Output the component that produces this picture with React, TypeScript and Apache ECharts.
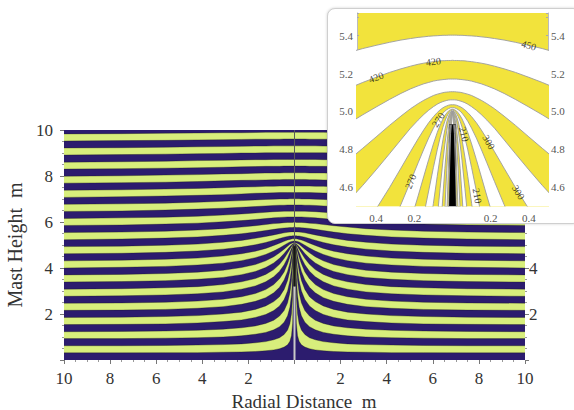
import React, { useEffect, useRef } from "react";
import * as echarts from "echarts";

// ---------- main chart data (right half; left half is the mirror image) ----------
const mainRadialX = [0, 0.04, 0.08, 0.13, 0.2, 0.3, 0.45, 0.65, 0.9, 1.25, 1.7, 2.3, 3.1, 4.2, 5.6, 7.5, 10];
// equipotential levels (V), 30 V apart
const mainLevels = [30, 60, 90, 120, 150, 180, 210, 240, 270, 300, 330, 360, 390, 420, 450, 480,
  510, 540, 570, 600, 630, 660, 690, 720, 750, 780, 810, 840, 870, 900, 930, 960];
// contour height (cm) of each level at each radial distance
const mainHeightsCm = [
  [500, 331, 160, 106, 81, 66, 56, 49, 44, 40, 37, 35, 34, 32, 32, 31, 31],
  [500, 409, 279, 202, 158, 130, 111, 97, 88, 80, 75, 70, 67, 65, 63, 62, 62],
  [500, 448, 358, 283, 229, 192, 164, 145, 131, 120, 112, 105, 100, 97, 95, 93, 93],
  [500, 470, 410, 346, 292, 249, 215, 191, 173, 159, 148, 140, 134, 129, 126, 124, 123],
  [500, 483, 444, 395, 345, 300, 263, 235, 215, 198, 185, 174, 167, 161, 157, 155, 154],
  [500, 490, 466, 430, 388, 346, 307, 275, 254, 235, 220, 208, 200, 193, 189, 186, 185],
  [501, 495, 480, 455, 422, 385, 348, 316, 292, 271, 255, 242, 232, 225, 220, 217, 216],
  [501, 498, 489, 473, 448, 418, 383, 353, 328, 306, 289, 275, 264, 256, 251, 248, 247],
  [502, 500, 495, 485, 468, 444, 414, 386, 362, 340, 322, 308, 296, 288, 283, 279, 277],
  [504, 502, 499, 493, 482, 465, 441, 416, 393, 372, 354, 340, 328, 319, 314, 310, 308],
  [506, 506, 504, 500, 493, 481, 463, 442, 422, 402, 385, 371, 359, 351, 345, 341, 339],
  [510, 510, 509, 507, 503, 495, 482, 466, 449, 431, 415, 402, 390, 382, 376, 372, 370],
  [517, 517, 516, 515, 513, 508, 499, 487, 474, 459, 445, 432, 421, 413, 407, 403, 400],
  [527, 527, 527, 526, 524, 522, 516, 508, 498, 485, 473, 462, 452, 443, 438, 434, 431],
  [540, 540, 540, 539, 539, 537, 534, 528, 521, 511, 501, 491, 482, 474, 468, 464, 462],
  [557, 557, 557, 557, 556, 555, 553, 549, 544, 537, 529, 520, 512, 504, 499, 495, 493],
  [577, 577, 576, 576, 576, 575, 574, 572, 568, 563, 556, 549, 542, 535, 530, 526, 523],
  [599, 599, 598, 598, 598, 598, 597, 595, 593, 589, 584, 578, 571, 565, 560, 556, 554],
  [622, 622, 622, 622, 622, 622, 621, 620, 618, 615, 611, 606, 601, 595, 591, 587, 585],
  [647, 647, 647, 647, 647, 647, 647, 646, 645, 642, 639, 635, 630, 625, 621, 618, 615],
  [674, 674, 674, 674, 674, 674, 673, 673, 672, 670, 667, 664, 660, 656, 652, 648, 646],
  [701, 701, 701, 701, 701, 700, 700, 700, 699, 698, 696, 693, 690, 686, 682, 679, 677],
  [728, 728, 728, 728, 728, 728, 728, 728, 727, 726, 725, 722, 719, 716, 713, 710, 707],
  [756, 756, 756, 756, 756, 756, 756, 756, 755, 755, 753, 752, 749, 746, 743, 740, 738],
  [785, 785, 785, 785, 785, 785, 785, 784, 784, 783, 782, 781, 779, 776, 773, 771, 769],
  [814, 814, 814, 814, 814, 814, 814, 813, 813, 813, 812, 810, 809, 806, 804, 801, 799],
  [843, 843, 843, 843, 843, 843, 843, 842, 842, 842, 841, 840, 838, 836, 834, 832, 830],
  [872, 872, 872, 872, 872, 872, 872, 872, 872, 871, 871, 870, 868, 867, 864, 862, 860],
  [901, 901, 901, 901, 901, 901, 901, 901, 901, 901, 900, 900, 898, 897, 895, 893, 891],
  [931, 931, 931, 931, 931, 931, 931, 931, 931, 930, 930, 929, 928, 927, 925, 923, 922],
  [961, 961, 961, 961, 961, 961, 961, 960, 960, 960, 960, 959, 958, 957, 955, 954, 952],
  [990, 990, 990, 990, 990, 990, 990, 990, 990, 990, 989, 988, 988, 987, 986, 984, 983],
];
const mastHeight = 4.95;
// right-hand height labels that are not hidden behind the inset
const rightAxisVisibleTicks = [2, 4];

// ---------- inset data (zoom on the mast tip) ----------
const insetRadialX = [0, 0.01, 0.02, 0.03, 0.04, 0.05, 0.065, 0.08, 0.1, 0.125, 0.15, 0.18, 0.22, 0.27, 0.33, 0.4, 0.47, 0.52];
const insetLevels = [30, 60, 90, 120, 150, 180, 210, 240, 270, 300, 330, 360, 390, 420, 450];
// contour height (mm) of each level at each radial distance
const insetHeightsMm = [
  [5000, 4882, 4534, 3979, 3305, 2667, 1992, 1601, 1303, 1092, 962, 859, 768, 693, 632, 583, 548, 528],
  [5000, 4934, 4743, 4450, 4091, 3714, 3198, 2789, 2398, 2073, 1855, 1673, 1507, 1366, 1251, 1157, 1088, 1049],
  [5001, 4963, 4856, 4689, 4480, 4250, 3900, 3580, 3224, 2884, 2632, 2408, 2193, 2003, 1844, 1711, 1614, 1558],
  [5001, 4980, 4919, 4822, 4699, 4557, 4327, 4099, 3817, 3517, 3274, 3042, 2806, 2589, 2400, 2239, 2117, 2047],
  [5002, 4990, 4955, 4899, 4826, 4739, 4593, 4437, 4231, 3992, 3782, 3568, 3337, 3113, 2909, 2730, 2593, 2513],
  [5002, 4997, 4977, 4945, 4902, 4850, 4758, 4657, 4514, 4337, 4169, 3988, 3780, 3567, 3364, 3180, 3035, 2948],
  [5007, 5003, 4991, 4973, 4948, 4917, 4861, 4797, 4703, 4579, 4455, 4312, 4138, 3950, 3761, 3582, 3437, 3349],
  [5012, 5009, 5003, 4992, 4978, 4960, 4927, 4888, 4828, 4745, 4658, 4553, 4418, 4262, 4097, 3934, 3797, 3711],
  [5020, 5019, 5015, 5009, 5001, 4991, 4971, 4948, 4911, 4859, 4801, 4728, 4629, 4508, 4374, 4234, 4111, 4033],
  [5035, 5035, 5033, 5029, 5025, 5019, 5008, 4994, 4972, 4940, 4903, 4855, 4787, 4700, 4597, 4484, 4380, 4313],
  [5061, 5061, 5060, 5058, 5055, 5052, 5046, 5038, 5025, 5006, 4984, 4954, 4911, 4850, 4776, 4691, 4609, 4554],
  [5104, 5104, 5103, 5102, 5101, 5099, 5095, 5091, 5084, 5072, 5059, 5041, 5014, 4975, 4926, 4865, 4805, 4763],
  [5171, 5171, 5171, 5170, 5169, 5168, 5166, 5164, 5160, 5153, 5146, 5135, 5119, 5095, 5063, 5023, 4982, 4951],
  [5270, 5269, 5269, 5269, 5268, 5268, 5267, 5265, 5263, 5259, 5255, 5249, 5239, 5225, 5206, 5180, 5153, 5132],
  [5403, 5403, 5403, 5402, 5402, 5402, 5401, 5400, 5399, 5397, 5394, 5391, 5385, 5377, 5365, 5349, 5332, 5318],
];
const insetMastHalfWidth = 0.018;
const insetMastTop = 4.93;
// contour labels in the inset
const insetLabelText = ["450", "420", "420", "270", "270", "210", "210", "300", "300"];
const insetLabelX = [0.4, -0.1, -0.4, -0.075, -0.22, 0.06, 0.13, 0.19, 0.345];
const insetLabelY = [5.349, 5.263, 5.18, 4.956, 4.629, 4.88, 4.554, 4.838, 4.573];
const insetLabelAngle = [-16, 6, 21, 57, 68, -75, -79, -60, -58];

// ---------- styling ----------
const NAVY = "#2c1c6e";
const LIME = "#d8ee7c";
const YELLOW = "#f2e33c";
const SERIF = "Liberation Serif";

function mirrored(xs: number[], hs: number[], unit: number) {
  const pts: number[][] = [];
  for (let i = xs.length - 1; i >= 1; i--) pts.push([-xs[i], hs[i] / unit]);
  for (let i = 0; i < xs.length; i++) pts.push([xs[i], hs[i] / unit]);
  return pts;
}

function absLabel(v: number) {
  return Math.abs(v) < 1e-9 ? "" : String(Math.abs(Math.round(v)));
}

function mainOption() {
  const series: any[] = [];
  for (let j = mainLevels.length - 1; j >= 0; j--) {
    series.push({
      type: "line",
      name: String(mainLevels[j]),
      data: mirrored(mainRadialX, mainHeightsCm[j], 100),
      symbol: "none",
      silent: true,
      lineStyle: { width: 0.6, color: "rgba(25,25,15,0.55)" },
      areaStyle: { color: j % 2 === 0 ? NAVY : LIME, opacity: 1, origin: "start" },
    });
  }
  series.push({
    type: "line", data: [[0, 0], [0, 10]], symbol: "none", silent: true,
    lineStyle: { width: 1, color: "#5a5a5a" },
  });
  series.push({
    type: "line", data: [[0, 0], [0, 3.2]], symbol: "none", silent: true,
    lineStyle: { width: 2, color: "#c9c9c9" },
  });
  series.push({
    type: "line", data: [[0, 3.2], [0, mastHeight]], symbol: "none", silent: true,
    lineStyle: { width: 2, color: "#161616" },
  });
  const tick = { show: true, length: 4, lineStyle: { color: "#777" } };
  const minor = { show: true, splitNumber: 4, length: 2, lineStyle: { color: "#999" } };
  const lbl = { fontFamily: SERIF, fontSize: 17, color: "#333", formatter: absLabel };
  return {
    animation: false,
    grid: {
      left: 64, top: 130, width: 461, height: 230, show: true, backgroundColor: NAVY, borderWidth: 0,
      outerBoundsMode: "none", containLabel: false,
    },
    xAxis: {
      type: "value", min: -10, max: 10, interval: 2,
      axisLine: { show: false, onZero: false }, axisTick: tick, minorTick: minor, splitLine: { show: false },
      axisLabel: { ...lbl, margin: 10 },
      name: "Radial Distance  m", nameLocation: "middle", nameGap: 23,
      nameTextStyle: { fontFamily: SERIF, fontSize: 19, lineHeight: 20, color: "#333", padding: [0, 0, 0, 19] },
    },
    yAxis: [
      {
        type: "value", min: 0, max: 10, interval: 2, position: "left",
        axisLine: { show: false, onZero: false }, axisTick: tick, minorTick: minor, splitLine: { show: false },
        axisLabel: { ...lbl, margin: 11 },
        name: "Mast Height  m", nameLocation: "middle", nameGap: 39, nameRotate: 90,
        nameTextStyle: { fontFamily: SERIF, fontSize: 20, color: "#333" },
      },
      {
        type: "value", min: 0, max: 10, interval: 2, position: "right",
        axisLine: { show: false, onZero: false }, axisTick: tick, minorTick: minor, splitLine: { show: false },
        axisLabel: {
          ...lbl, margin: 4,
          formatter: (v: number) => (rightAxisVisibleTicks.indexOf(Math.round(v)) >= 0 ? String(Math.round(v)) : ""),
        },
      },
    ],
    series,
  };
}

function insetOption() {
  const series: any[] = [];
  for (let j = insetLevels.length - 1; j >= 0; j--) {
    series.push({
      type: "line",
      name: String(insetLevels[j]),
      data: mirrored(insetRadialX, insetHeightsMm[j], 1000),
      symbol: "none",
      silent: true,
      lineStyle: { width: 0.9, color: "#9c9c9c" },
      areaStyle: { color: j % 2 === 0 ? "#ffffff" : YELLOW, opacity: 1, origin: "start" },
    });
  }
  series.push({
    type: "line",
    data: [[-insetMastHalfWidth, insetMastTop], [insetMastHalfWidth, insetMastTop]],
    symbol: "none", silent: true,
    lineStyle: { width: 1, color: "#444" },
    areaStyle: { color: "#000", opacity: 1, origin: "start" },
  });
  series.push({
    type: "scatter",
    symbolSize: 1,
    itemStyle: { color: "rgba(0,0,0,0)" },
    silent: true,
    z: 5,
    label: { show: true, position: "inside", formatter: "{b}", fontFamily: SERIF, fontSize: 10, color: "#111" },
    data: insetLabelText.map((t, i) => ({
      name: t,
      value: [insetLabelX[i], insetLabelY[i]],
      label: { rotate: insetLabelAngle[i] },
    })),
  });
  const xl = (v: number) => {
    const t = Math.round(v * 10);
    return t !== 0 && t % 2 === 0 ? (Math.abs(t) / 10).toFixed(1) : "";
  };
  const yl = (v: number) => {
    const t = Math.round(v * 10);
    return t % 2 === 0 && Math.abs(v * 10 - t) < 1e-6 ? (t / 10).toFixed(1) : "";
  };
  const tick = { show: true, inside: true, length: 2, lineStyle: { color: "#aaa" } };
  const lbl = { fontFamily: SERIF, fontSize: 11, color: "#555" };
  const line = { show: true, onZero: false, lineStyle: { color: "#bbb", width: 1 } };
  return {
    animation: false,
    grid: {
      left: 29, top: 4, width: 191, height: 193, show: true, backgroundColor: YELLOW, borderWidth: 0,
      outerBoundsMode: "none", containLabel: false,
    },
    xAxis: {
      type: "value", min: -0.5, max: 0.5, interval: 0.1,
      axisLine: line, axisTick: tick, splitLine: { show: false },
      axisLabel: { ...lbl, margin: 6, formatter: xl },
    },
    yAxis: [
      {
        type: "value", min: 4.5, max: 5.52, interval: 0.1, position: "left",
        axisLine: line, axisTick: tick, splitLine: { show: false },
        axisLabel: { ...lbl, margin: 4, formatter: yl },
      },
      {
        type: "value", min: 4.5, max: 5.52, interval: 0.1, position: "right",
        axisLine: line, axisTick: tick, splitLine: { show: false },
        axisLabel: { ...lbl, margin: 3, formatter: yl },
      },
    ],
    series,
  };
}

export default function App() {
  const mainRef = useRef<HTMLDivElement>(null);
  const insetRef = useRef<HTMLDivElement>(null);
  useEffect(() => {
    const main = echarts.init(mainRef.current as HTMLDivElement, null, { renderer: "svg" });
    const inset = echarts.init(insetRef.current as HTMLDivElement, null, { renderer: "svg" });
    main.setOption(mainOption() as any);
    inset.setOption(insetOption() as any);
    return () => {
      main.dispose();
      inset.dispose();
    };
  }, []);
  return (
    <div style={{ position: "fixed", left: 0, top: 0, width: 574, height: 410, overflow: "hidden", background: "#fff" }}>
      <div ref={mainRef} style={{ position: "absolute", left: 0, top: 0, width: 574, height: 410 }} />
      <div
        style={{
          position: "absolute", left: 327, top: 8, width: 252, height: 214,
          border: "1px solid #cfcfcf", borderRadius: 8, background: "#fff",
          boxShadow: "0 0 3px rgba(0,0,0,0.18)", overflow: "hidden",
        }}
      >
        <div ref={insetRef} style={{ width: 252, height: 214 }} />
      </div>
    </div>
  );
}
